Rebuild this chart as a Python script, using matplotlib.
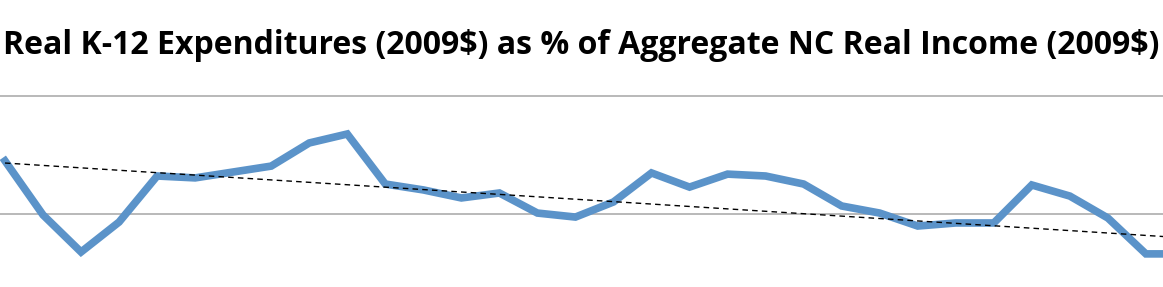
import matplotlib
matplotlib.use("Agg")
import matplotlib.pyplot as plt
import numpy as np

# --- Data --------------------------------------------------------------------
years = np.arange(32)
pct_income = [3.725, 3.496, 3.339, 3.466, 3.661, 3.653, 3.678, 3.703,
              3.801, 3.839, 3.627, 3.602, 3.568, 3.589, 3.504, 3.487,
              3.551, 3.674, 3.614, 3.669, 3.661, 3.627, 3.534, 3.504,
              3.449, 3.462, 3.462, 3.623, 3.576, 3.483, 3.331, 3.331]
# linear trendline as drawn in the chart (value at first and last year)
trend_ends = [3.716, 3.399]
grid_values = [3.5, 4.0]
title = "Real K-12 Expenditures (2009$) as % of Aggregate NC Real Income (2009$)"

# --- Plot --------------------------------------------------------------------
W, H = 1163, 287
fig = plt.figure(figsize=(W / 100, H / 100), dpi=100)

# plot area is cropped on both sides and at the bottom
ax_top_px = 90
ax = fig.add_axes([0, 0, 1, (H - ax_top_px) / H])
px_per_unit = 236.0
ax.set_ylim(4.0 - (H - 96) / px_per_unit, 4.0 + (96 - ax_top_px) / px_per_unit)
ax.set_xlim(-5 / 38.03, (W - 5) / 38.03)

for v in grid_values:
    ax.axhline(v, color="#a6a6a6", lw=1.1, zorder=1)

ax.plot(years, pct_income, color="#5b93c9", lw=5.5, solid_joinstyle="miter",
        zorder=3)

ax.plot([years[0], years[-1]], trend_ends, color="black", lw=1.0,
        ls=(0, (4, 3)), zorder=4)

for s in ax.spines.values():
    s.set_visible(False)
ax.set_xticks([])
ax.set_yticks([])

fig.text(0.5, 1 - 46 / H, title, ha="center", va="center",
         parse_math=False, fontsize=23, fontweight="bold", family="Open Sans",
         color="black")

fig.savefig("out.png", dpi=100)
